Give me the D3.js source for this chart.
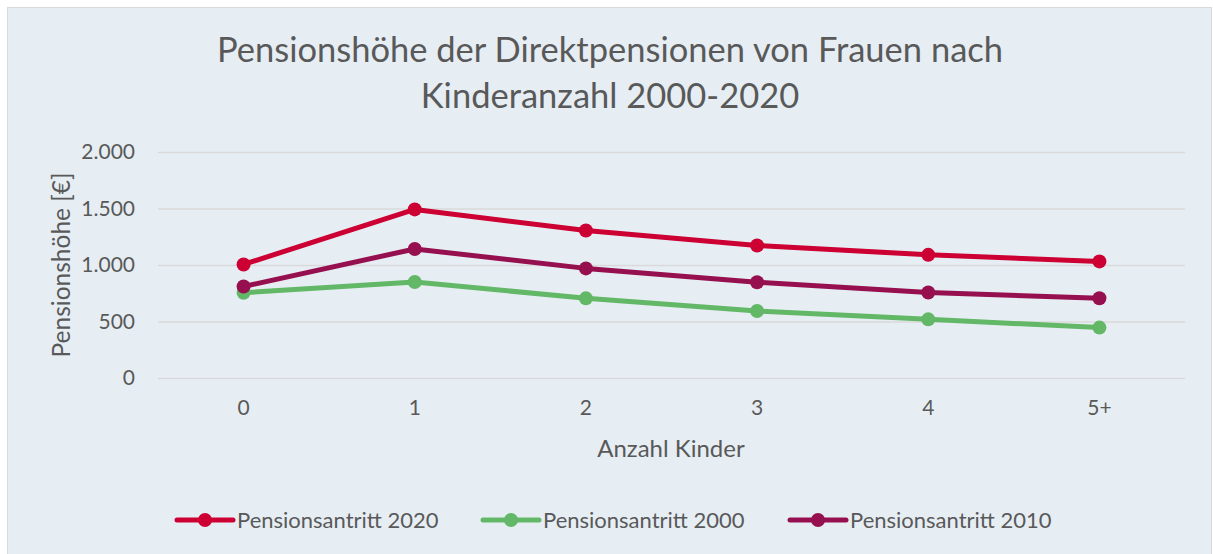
<!DOCTYPE html>
<html>
<head>
<meta charset="utf-8">
<script src="https://cdn.jsdelivr.net/npm/d3@7"></script>
<style>
  body { margin: 0; background: #fff; }
  text { font-family: Lato, "Open Sans", sans-serif; fill: #595959; }
</style>
</head>
<body>
<script>
// data
const kinder = ['0', '1', '2', '3', '4', '5+'];
const werte2020 = [1005, 1492, 1305, 1172, 1090, 1032];
const werte2000 = [755, 850, 705, 593, 519, 446];
const werte2010 = [810, 1142, 970, 848, 756, 706];
const yTicks = [0, 500, 1000, 1500, 2000];

const series = [
  { name: 'Pensionsantritt 2020', values: werte2020, color: '#CC0033' },
  { name: 'Pensionsantritt 2000', values: werte2000, color: '#62B866' },
  { name: 'Pensionsantritt 2010', values: werte2010, color: '#96104F' }
];

const W = 1213, H = 554;
const plot = { left: 158, right: 1185, top: 152, bottom: 378 };

const svg = d3.select('body').append('svg')
  .attr('width', W)
  .attr('height', H);

// chart area background
svg.append('rect')
  .attr('x', 7.5).attr('y', 7.5)
  .attr('width', W - 9).attr('height', H - 6)
  .attr('fill', '#E6EEF4')
  .attr('stroke', '#D9D9D9')
  .attr('stroke-width', 1);

const x = d3.scaleBand()
  .domain(kinder)
  .range([plot.left, plot.right]);

const y = d3.scaleLinear()
  .domain([0, 2000])
  .range([plot.bottom, plot.top]);

const fmt = d3.formatLocale({ decimal: ',', thousands: '.', grouping: [3], currency: ['', '€'] }).format(',');

// gridlines + y labels
const yAxis = svg.append('g')
  .attr('transform', `translate(${plot.left},0)`)
  .call(d3.axisLeft(y).tickValues(yTicks).tickFormat(fmt)
    .tickSize(-(plot.right - plot.left)).tickPadding(23));
yAxis.select('.domain').remove();
yAxis.selectAll('line').attr('stroke', '#D9D9D9').attr('stroke-width', 1.5);
yAxis.selectAll('text').style('font-size', '21px').attr('fill', '#595959');

// x labels
const xAxis = svg.append('g')
  .attr('transform', `translate(0,${plot.bottom})`)
  .call(d3.axisBottom(x).tickSize(0).tickPadding(22));
xAxis.select('.domain').remove();
xAxis.selectAll('text').style('font-size', '21px').attr('fill', '#595959');

// title
svg.append('text')
  .attr('x', 610).attr('y', 62)
  .attr('text-anchor', 'middle')
  .style('font-size', '34.5px')
  .text('Pensionshöhe der Direktpensionen von Frauen nach');
svg.append('text')
  .attr('x', 610).attr('y', 108)
  .attr('text-anchor', 'middle')
  .style('font-size', '34.5px')
  .text('Kinderanzahl 2000-2020');

// axis titles
svg.append('text')
  .attr('x', 671).attr('y', 457)
  .attr('text-anchor', 'middle')
  .style('font-size', '24px')
  .text('Anzahl Kinder');

svg.append('text')
  .attr('transform', 'translate(70,265) rotate(-90)')
  .attr('text-anchor', 'middle')
  .style('font-size', '24.5px')
  .text('Pensionshöhe [€]');

// lines and markers
const cx = d => x(d) + x.bandwidth() / 2;
const line = d3.line()
  .x((d, i) => cx(kinder[i]))
  .y(d => y(d));

const g = svg.selectAll('.series')
  .data(series)
  .enter()
  .append('g')
  .attr('class', 'series');

g.append('path')
  .attr('d', d => line(d.values))
  .attr('fill', 'none')
  .attr('stroke', d => d.color)
  .attr('stroke-width', 5)
  .attr('stroke-linejoin', 'round');

g.selectAll('circle')
  .data(d => d.values.map((v, i) => ({ v, k: kinder[i], color: d.color })))
  .enter()
  .append('circle')
  .attr('cx', d => cx(d.k))
  .attr('cy', d => y(d.v))
  .attr('r', 7)
  .attr('fill', d => d.color);

// legend
const legendX = [177, 483, 790];
const lg = svg.selectAll('.legend')
  .data(series)
  .enter()
  .append('g')
  .attr('class', 'legend')
  .attr('transform', (d, i) => `translate(${legendX[i]},520)`);

lg.append('line')
  .attr('x1', 0).attr('x2', 56)
  .attr('stroke', d => d.color)
  .attr('stroke-width', 5)
  .attr('stroke-linecap', 'round');
lg.append('circle')
  .attr('cx', 28).attr('r', 7)
  .attr('fill', d => d.color);
lg.append('text')
  .attr('x', 60).attr('dy', '0.35em')
  .style('font-size', '22px')
  .text(d => d.name);
</script>
</body>
</html>
